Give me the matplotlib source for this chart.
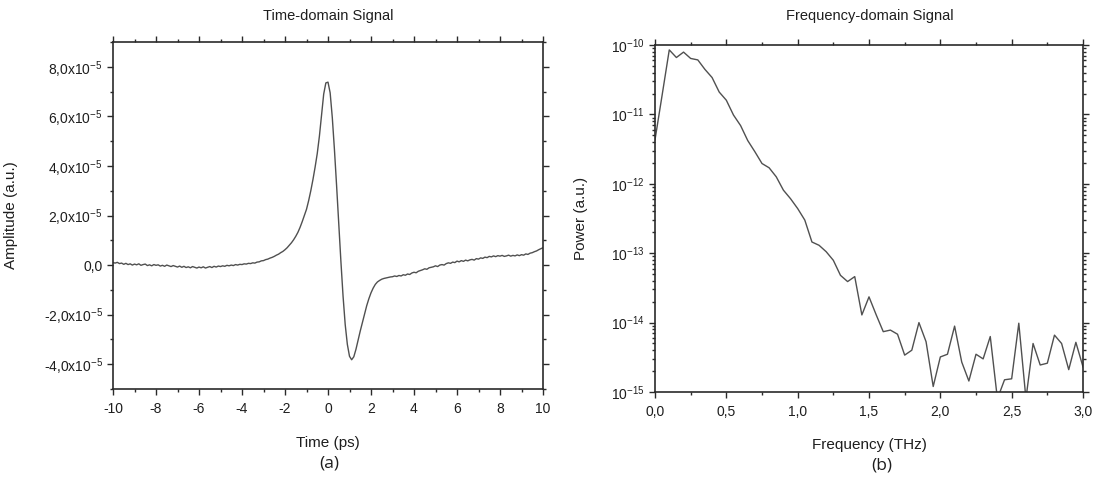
import numpy as np
import matplotlib
matplotlib.use("Agg")
import matplotlib.pyplot as plt
from matplotlib.ticker import FixedLocator, MultipleLocator, LogLocator, NullFormatter

plt.rcParams['font.family'] = ['Liberation Sans', 'DejaVu Sans']
plt.rcParams['mathtext.default'] = 'regular'

# ---------------- data ----------------
time_ps = np.round(np.arange(-10.0, 10.001, 0.1), 1)
amp_e5 = [
    # -10.0 .. -2.0
    0.10, 0.08, 0.11, 0.06, 0.08, 0.03, 0.07, 0.02, 0.05, 0.00,
    0.04, 0.01, 0.05, -0.01, 0.02, 0.04, -0.02, 0.01, -0.03, 0.02,
    -0.01, 0.01, -0.04, -0.01, -0.05, 0.00, -0.03, -0.06, -0.02, -0.05,
    -0.08, -0.04, -0.09, -0.05, -0.10, -0.07, -0.11, -0.06, -0.09, -0.12,
    -0.08, -0.11, -0.07, -0.12, -0.09, -0.06, -0.10, -0.05, -0.08, -0.04,
    -0.06, -0.03, -0.05, -0.01, -0.03, 0.00, -0.02, 0.02, 0.00, 0.03,
    0.02, 0.05, 0.04, 0.07, 0.06, 0.09, 0.08, 0.12, 0.13, 0.17,
    0.18, 0.22, 0.24, 0.28, 0.31, 0.35, 0.40, 0.44, 0.50, 0.55,
    0.62,
    # -1.9 .. 2.4
    0.70, 0.80, 0.90, 1.02, 1.16, 1.32, 1.52, 1.75, 2.00, 2.25,
    2.60, 3.00, 3.45, 3.95, 4.50, 5.20, 6.05, 6.90, 7.35, 7.38,
    6.95, 5.95, 4.65, 3.20, 1.65, 0.15, -1.25, -2.40, -3.20, -3.68,
    -3.82, -3.70, -3.40, -3.02, -2.66, -2.32, -1.98, -1.64, -1.36, -1.12,
    -0.93, -0.78, -0.68, -0.62,
    # 2.5 .. 10.0
    -0.57, -0.54, -0.52, -0.50, -0.48, -0.47, -0.44, -0.46, -0.42, -0.44,
    -0.39, -0.41, -0.36, -0.38, -0.32, -0.29, -0.31, -0.25, -0.22, -0.19,
    -0.15, -0.17, -0.11, -0.09, -0.07, -0.03, -0.06, 0.00, 0.02, 0.00,
    0.06, 0.09, 0.07, 0.12, 0.10, 0.16, 0.13, 0.18, 0.15, 0.20,
    0.17, 0.21, 0.23, 0.20, 0.26, 0.24, 0.29, 0.27, 0.32, 0.30,
    0.35, 0.33, 0.37, 0.34, 0.38, 0.36, 0.39, 0.35, 0.37, 0.40,
    0.36, 0.39, 0.37, 0.41, 0.38, 0.42, 0.40, 0.45, 0.43, 0.48,
    0.50, 0.54, 0.57, 0.62, 0.66, 0.70,
]
amplitude = np.array(amp_e5) * 1e-5

freq_thz = np.round(np.arange(0.0, 3.0001, 0.05), 2)
power = [
    4.3e-12, 1.9e-11, 8.5e-11, 6.6e-11, 7.9e-11, 6.4e-11, 6.1e-11, 4.45e-11, 3.4e-11, 2.1e-11,
    1.6e-11, 9.8e-12, 6.9e-12, 4.2e-12, 2.9e-12, 1.96e-12, 1.7e-12, 1.26e-12, 8.1e-13, 6.1e-13,
    4.4e-13, 3.0e-13, 1.45e-13, 1.3e-13, 1.05e-13, 7.9e-14, 4.8e-14, 3.9e-14, 4.6e-14, 1.29e-14,
    2.35e-14, 1.3e-14, 7.4e-15, 7.8e-15, 6.8e-15, 3.4e-15, 4.0e-15, 1.0e-14, 5.3e-15, 1.2e-15,
    3.2e-15, 3.5e-15, 8.9e-15, 2.7e-15, 1.44e-15, 3.5e-15, 3.0e-15, 6.3e-15, 8.0e-16, 1.5e-15,
    1.55e-15, 9.8e-15, 8.0e-16, 5.0e-15, 2.45e-15, 2.6e-15, 6.6e-15, 5.0e-15, 2.1e-15, 5.2e-15,
    2.3e-15,
]

amp_ticks = [-4e-5, -2e-5, 0.0, 2e-5, 4e-5, 6e-5, 8e-5]
amp_ticklabels = ['-4,0x10$^{-5}$', '-2,0x10$^{-5}$', '0,0', '2,0x10$^{-5}$',
                  '4,0x10$^{-5}$', '6,0x10$^{-5}$', '8,0x10$^{-5}$']
time_ticks = [-10, -8, -6, -4, -2, 0, 2, 4, 6, 8, 10]
freq_ticks = [0.0, 0.5, 1.0, 1.5, 2.0, 2.5, 3.0]
freq_ticklabels = ['0,0', '0,5', '1,0', '1,5', '2,0', '2,5', '3,0']
pow_ticks = [1e-15, 1e-14, 1e-13, 1e-12, 1e-11, 1e-10]
pow_ticklabels = ['10$^{-15}$', '10$^{-14}$', '10$^{-13}$', '10$^{-12}$', '10$^{-11}$', '10$^{-10}$']

# ---------------- figure ----------------
W, H = 1094, 482
fig = plt.figure(figsize=(W / 100, H / 100), dpi=100)

def box(x0, y0, x1, y1):
    return [x0 / W, 1 - y1 / H, (x1 - x0) / W, (y1 - y0) / H]

ax1 = fig.add_axes(box(113, 42, 543, 389))
ax2 = fig.add_axes(box(655, 45, 1083, 392))

line_col = '#505050'
spine_col = '#2a2a2a'
txt_col = '#1e1e1e'

for ax in (ax1, ax2):
    for s in ax.spines.values():
        s.set_linewidth(1.2)
        s.set_color(spine_col)
    ax.tick_params(which='both', direction='out', top=True, right=True,
                   color=spine_col, labelcolor=txt_col, labelsize=10, width=1.0)
    ax.tick_params(which='major', length=4.2)
    ax.tick_params(which='minor', length=2.4)
    ax.tick_params(axis='x', which='major', pad=5)
    ax.tick_params(axis='y', which='major', pad=3)

# left: time domain
ax1.plot(time_ps, amplitude, color=line_col, lw=1.0)
ax1.set_xlim(-10, 10)
ax1.set_ylim(-5e-5, 9e-5)
ax1.xaxis.set_major_locator(FixedLocator(time_ticks))
ax1.set_xticklabels([str(t) for t in time_ticks])
ax1.xaxis.set_minor_locator(MultipleLocator(1))
ax1.yaxis.set_major_locator(FixedLocator(amp_ticks))
ax1.set_yticklabels(amp_ticklabels)
ax1.yaxis.set_minor_locator(MultipleLocator(1e-5))
ax1.set_xlabel('Time (ps)', fontsize=11, color=txt_col)
ax1.set_ylabel('Amplitude (a.u.)', fontsize=11, color=txt_col)
ax1.xaxis.set_label_coords(0.5, (389 - 436) / 347)
ax1.yaxis.set_label_coords((18 - 113) / 430, 0.5)

# right: frequency domain
ax2.plot(freq_thz, power, color=line_col, lw=1.0)
ax2.set_yscale('log')
ax2.set_xlim(0, 3.0)
ax2.set_ylim(1e-15, 1e-10)
ax2.xaxis.set_major_locator(FixedLocator(freq_ticks))
ax2.set_xticklabels(freq_ticklabels)
ax2.xaxis.set_minor_locator(MultipleLocator(0.25))
ax2.yaxis.set_major_locator(FixedLocator(pow_ticks))
ax2.set_yticklabels(pow_ticklabels)
ax2.yaxis.set_minor_locator(LogLocator(base=10, subs=np.arange(2, 10)))
ax2.yaxis.set_minor_formatter(NullFormatter())
ax2.set_xlabel('Frequency (THz)', fontsize=11, color=txt_col)
ax2.set_ylabel('Power (a.u.)', fontsize=11, color=txt_col)
ax2.xaxis.set_label_coords(0.5, (392 - 438) / 347)
ax2.yaxis.set_label_coords((588 - 655) / 428, 0.5)

# titles and panel labels
fig.text(328 / W, 1 - 16 / H, 'Time-domain Signal', ha='center', va='center',
         fontsize=10.5, color=txt_col)
fig.text(870 / W, 1 - 16 / H, 'Frequency-domain Signal', ha='center', va='center',
         fontsize=10.5, color=txt_col)
fig.text(329 / W, 1 - 464 / H, '(a)', ha='center', va='center', fontsize=12.5,
         family=['Open Sans', 'DejaVu Sans'], color=txt_col)
fig.text(882 / W, 1 - 466 / H, '(b)', ha='center', va='center', fontsize=12.5,
         family=['Open Sans', 'DejaVu Sans'], color=txt_col)

fig.savefig('out.png', dpi=100)
